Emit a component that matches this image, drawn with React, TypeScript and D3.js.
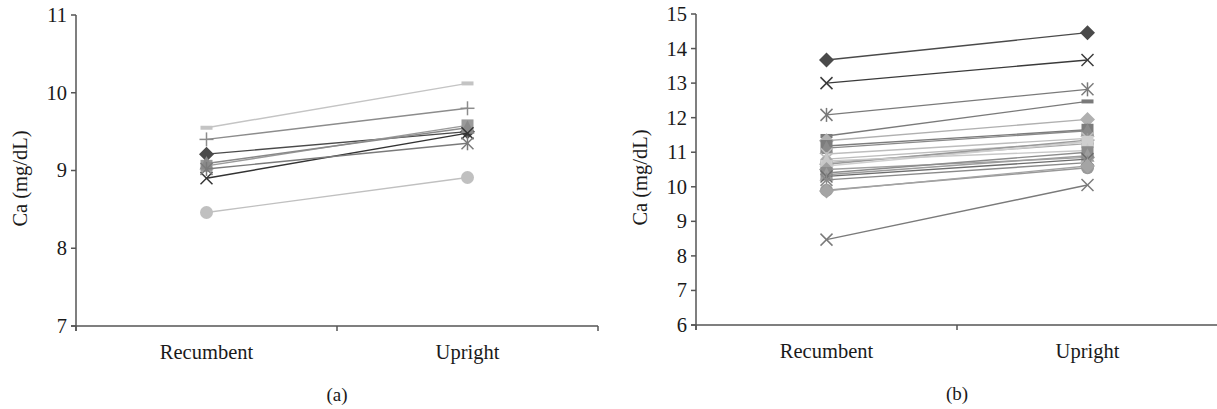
import React from "react";
import * as d3 from "d3";

const categories = ["Recumbent", "Upright"];

// Panel (a)
const aTicks = [7, 8, 9, 10, 11];
const aRecumbent = [9.55, 9.4, 9.21, 9.06, 9.09, 8.9, 9.02, 8.46];
const aUpright = [10.12, 9.8, 9.5, 9.58, 9.55, 9.48, 9.35, 8.91];
const aShapes = ["dash", "plus", "diamond", "square", "triangle", "x", "asterisk", "circle"];
const aColors = ["#c4c4c4", "#8c8c8c", "#4a4a4a", "#9a9a9a", "#8a8a8a", "#333333", "#7a7a7a", "#c0c0c0"];

// Panel (b)
const bTicks = [6, 7, 8, 9, 10, 11, 12, 13, 14, 15];
const bRecumbent = [13.67, 13.0, 12.08, 11.47, 11.33, 11.18, 11.12, 10.95, 10.8, 10.7, 10.65, 10.6, 10.75, 10.5, 10.4, 10.35, 10.3, 10.2, 9.9, 9.88, 8.47];
const bUpright = [14.46, 13.67, 12.82, 12.47, 11.95, 11.65, 11.62, 11.4, 11.3, 11.25, 11.35, 11.3, 11.05, 10.85, 11.0, 10.9, 10.8, 10.7, 10.55, 10.6, 10.05];
const bShapes = ["diamond", "x", "asterisk", "dash", "diamond", "square", "triangle", "x", "asterisk", "circle", "plus", "square", "triangle", "diamond", "square", "triangle", "x", "asterisk", "circle", "diamond", "x"];
const bColors = ["#4a4a4a", "#3a3a3a", "#7a7a7a", "#7a7a7a", "#b0b0b0", "#7c7c7c", "#8a8a8a", "#bdbdbd", "#bdbdbd", "#aaaaaa", "#9a9a9a", "#cfcfcf", "#c8c8c8", "#a0a0a0", "#8c8c8c", "#9c9c9c", "#6c6c6c", "#8a8a8a", "#999999", "#a4a4a4", "#7a7a7a"];

const FONT = "'Liberation Serif', 'Times New Roman', serif";
const AXIS = "#555";
const FS = 20.5;

function Marker({ shape, x, y, color }: { shape: string; x: number; y: number; color: string }) {
  const s = 7;
  switch (shape) {
    case "diamond":
      return <path d={`M${x},${y - 7.5}L${x + 7.5},${y}L${x},${y + 7.5}L${x - 7.5},${y}Z`} fill={color} />;
    case "square":
      return <rect x={x - 6} y={y - 6} width={12} height={12} fill={color} />;
    case "triangle":
      return <path d={`M${x},${y - 7.5}L${x + 7},${y + 6}L${x - 7},${y + 6}Z`} fill={color} />;
    case "circle":
      return <circle cx={x} cy={y} r={6.5} fill={color} />;
    case "dash":
      return <rect x={x - 6} y={y - 2} width={12} height={4} fill={color} />;
    case "plus":
      return (
        <g stroke={color} strokeWidth={1.5}>
          <line x1={x - s} x2={x + s} y1={y} y2={y} />
          <line x1={x} x2={x} y1={y - s} y2={y + s} />
        </g>
      );
    case "x":
      return (
        <g stroke={color} strokeWidth={1.5}>
          <line x1={x - 6} x2={x + 6} y1={y - 6} y2={y + 6} />
          <line x1={x - 6} x2={x + 6} y1={y + 6} y2={y - 6} />
        </g>
      );
    case "asterisk":
      return (
        <g stroke={color} strokeWidth={1.5}>
          <line x1={x - 6} x2={x + 6} y1={y - 6} y2={y + 6} />
          <line x1={x - 6} x2={x + 6} y1={y + 6} y2={y - 6} />
          <line x1={x} x2={x} y1={y - 7} y2={y + 7} />
        </g>
      );
    default:
      return null;
  }
}

function Panel({
  x0, x1, yTop, yBot, domain, ticks, rec, up, shapes, colors, label, titleX,
}: {
  x0: number; x1: number; yTop: number; yBot: number; domain: [number, number]; ticks: number[];
  rec: number[]; up: number[]; shapes: string[]; colors: string[]; label: string; titleX: number;
}) {
  const x = d3.scaleBand<string>().domain(categories).range([x0, x1]);
  const y = d3.scaleLinear().domain(domain).range([yBot, yTop]);
  const cx = (c: string) => (x(c) as number) + x.bandwidth() / 2;
  const line = d3.line<[number, number]>().x((d) => d[0]).y((d) => d[1]);
  const bounds = [x0, ...categories.slice(1).map((c) => x(c) as number), x1];
  return (
    <g>
      <line x1={x0} x2={x0} y1={yTop} y2={yBot + 5} stroke={AXIS} strokeWidth={1.5} />
      {ticks.map((t) => (
        <g key={t}>
          <line x1={x0 - 5} x2={x0} y1={y(t)} y2={y(t)} stroke={AXIS} strokeWidth={1.5} />
          <text x={x0 - 9} y={y(t)} dy="0.34em" textAnchor="end" fontFamily={FONT} fontSize={FS} fill="#1a1a1a">
            {t}
          </text>
        </g>
      ))}
      <line x1={x0 - 5} x2={x1} y1={yBot} y2={yBot} stroke={AXIS} strokeWidth={1.5} />
      {bounds.map((b, i) => (
        <line key={i} x1={b} x2={b} y1={yBot} y2={yBot + 5} stroke={AXIS} strokeWidth={1.5} />
      ))}
      {categories.map((c) => (
        <text key={c} x={cx(c)} y={yBot + 33} textAnchor="middle" fontFamily={FONT} fontSize={FS} fill="#1a1a1a">
          {c}
        </text>
      ))}
      <text
        transform={`translate(${titleX},${(yTop + yBot) / 2 + 8}) rotate(-90)`}
        textAnchor="middle"
        fontFamily={FONT}
        fontSize={FS}
        fill="#1a1a1a"
      >
        Ca (mg/dL)
      </text>
      <text x={(x0 + x1) / 2} y={yBot + 75} textAnchor="middle" fontFamily={FONT} fontSize={19} fill="#1a1a1a">
        {label}
      </text>
      {rec.map((r, i) => {
        const pts: [number, number][] = [
          [cx(categories[0]), y(r)],
          [cx(categories[1]), y(up[i])],
        ];
        return (
          <g key={i}>
            <path d={line(pts)!} fill="none" stroke={colors[i]} strokeWidth={1.4} />
            {pts.map((p, j) => (
              <Marker key={j} shape={shapes[i]} x={p[0]} y={p[1]} color={colors[i]} />
            ))}
          </g>
        );
      })}
    </g>
  );
}

export default function App() {
  return (
    <svg width={1217} height={409} style={{ position: "absolute", left: 0, top: 0, background: "#fff" }}>
      <rect width={1217} height={409} fill="#fff" />
      <Panel
        x0={76} x1={598} yTop={15} yBot={326} domain={[7, 11]} ticks={aTicks}
        rec={aRecumbent} up={aUpright} shapes={aShapes} colors={aColors} label="(a)" titleX={27}
      />
      <Panel
        x0={696} x1={1218} yTop={14} yBot={325} domain={[6, 15]} ticks={bTicks}
        rec={bRecumbent} up={bUpright} shapes={bShapes} colors={bColors} label="(b)" titleX={647}
      />
    </svg>
  );
}
